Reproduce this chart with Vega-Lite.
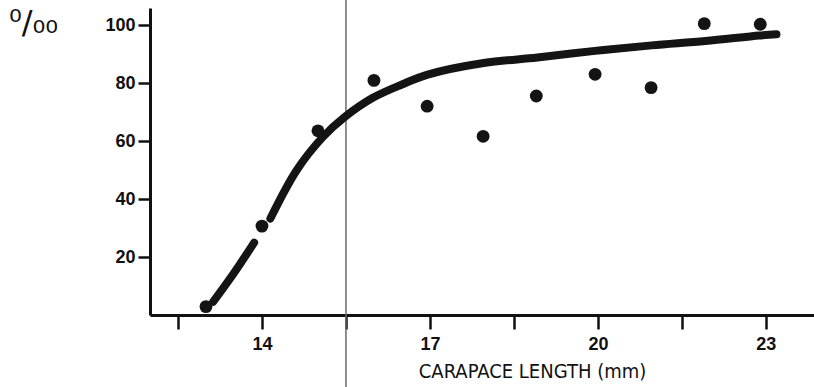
{
  "$schema": "https://vega.github.io/schema/vega-lite/v6.json",
  "width": 664,
  "height": 307,
  "autosize": "none",
  "padding": {"left": 150, "top": 8, "right": 0, "bottom": 72},
  "background": "white",
  "config": {"view": {"stroke": null}},
  "datasets": {
    "observed": [
      {"length": 13.0, "share": 2.9},
      {"length": 14.0, "share": 30.7},
      {"length": 15.0, "share": 63.6},
      {"length": 16.0, "share": 81.0},
      {"length": 16.95, "share": 72.1},
      {"length": 17.95, "share": 61.7},
      {"length": 18.9, "share": 75.6},
      {"length": 19.95, "share": 83.1},
      {"length": 20.95, "share": 78.5},
      {"length": 21.9, "share": 100.6},
      {"length": 22.9, "share": 100.4}
    ],
    "fitted": [
      {"segment": "a", "length": 13.13, "share": 4.6},
      {"segment": "a", "length": 13.5, "share": 14.5},
      {"segment": "a", "length": 13.86, "share": 25.0},
      {"segment": "b", "length": 14.15, "share": 33.3},
      {"segment": "b", "length": 14.62, "share": 50.0},
      {"segment": "b", "length": 15.09, "share": 61.5},
      {"segment": "b", "length": 15.48, "share": 68.4},
      {"segment": "b", "length": 15.98, "share": 75.0},
      {"segment": "b", "length": 16.5, "share": 79.6},
      {"segment": "b", "length": 16.96, "share": 83.0},
      {"segment": "b", "length": 17.96, "share": 87.0},
      {"segment": "b", "length": 18.92, "share": 88.9},
      {"segment": "b", "length": 19.95, "share": 91.2},
      {"segment": "b", "length": 20.96, "share": 93.1},
      {"segment": "b", "length": 21.92, "share": 94.6},
      {"segment": "b", "length": 22.89, "share": 96.5},
      {"segment": "b", "length": 23.19, "share": 96.9}
    ],
    "marker": [{"length": 15.5, "from": -27, "to": 112}]
  },
  "layer": [
    {
      "data": {"name": "marker"},
      "mark": {"type": "rule", "color": "#6a6a6a", "strokeWidth": 1.5, "clip": false},
      "encoding": {
        "x": {"field": "length", "type": "quantitative", "scale": {"domain": [12, 23.86], "nice": false}},
        "y": {"field": "from", "type": "quantitative", "scale": {"domain": [0, 106], "nice": false}},
        "y2": {"field": "to"}
      }
    },
    {
      "data": {"name": "fitted"},
      "mark": {"type": "line", "color": "#141414", "strokeWidth": 8, "strokeCap": "round", "interpolate": "catmull-rom"},
      "encoding": {
        "detail": {"field": "segment"},
        "x": {
          "field": "length",
          "type": "quantitative",
          "scale": {"domain": [12, 23.86], "nice": false},
          "axis": {
            "title": "CARAPACE LENGTH (mm)",
            "values": [12.5, 14, 15.5, 17, 18.5, 20, 21.5, 23],
            "format": "d",
            "labelExpr": "datum.value % 3 === 2 ? datum.label : ''",
            "grid": false,
            "domainColor": "#111",
            "domainWidth": 3,
            "tickColor": "#111",
            "tickWidth": 2.5,
            "tickSize": 14,
            "labelPadding": 6,
            "labelFont": "Liberation Sans",
            "labelFontWeight": "bold",
            "labelFontSize": 18,
            "labelColor": "#111",
            "titleFont": "DejaVu Sans Condensed",
            "titleFontSize": 20,
            "titleFontWeight": "normal",
            "titleColor": "#111",
            "titleX": 382,
            "titleY": 56,
            "titleAlign": "center",
            "titleBaseline": "middle"
          }
        },
        "y": {
          "field": "share",
          "type": "quantitative",
          "scale": {"domain": [0, 106], "nice": false},
          "axis": {
            "title": "⁰/₀₀",
            "values": [20, 40, 60, 80, 100],
            "grid": false,
            "domainColor": "#111",
            "domainWidth": 3,
            "tickColor": "#111",
            "tickWidth": 2.5,
            "tickSize": 12,
            "labelPadding": 3,
            "labelFont": "Liberation Sans",
            "labelFontWeight": "bold",
            "labelFontSize": 18,
            "labelColor": "#111",
            "titleFont": "DejaVu Sans",
            "titleFontSize": 32,
            "titleFontWeight": "normal",
            "titleColor": "#111",
            "titleAngle": 0,
            "titleX": -117,
            "titleY": 14,
            "titleAlign": "center",
            "titleBaseline": "middle"
          }
        }
      }
    },
    {
      "data": {"name": "observed"},
      "mark": {"type": "point", "filled": true, "color": "#141414", "opacity": 1, "size": 165},
      "encoding": {
        "x": {"field": "length", "type": "quantitative"},
        "y": {"field": "share", "type": "quantitative"}
      }
    }
  ]
}
